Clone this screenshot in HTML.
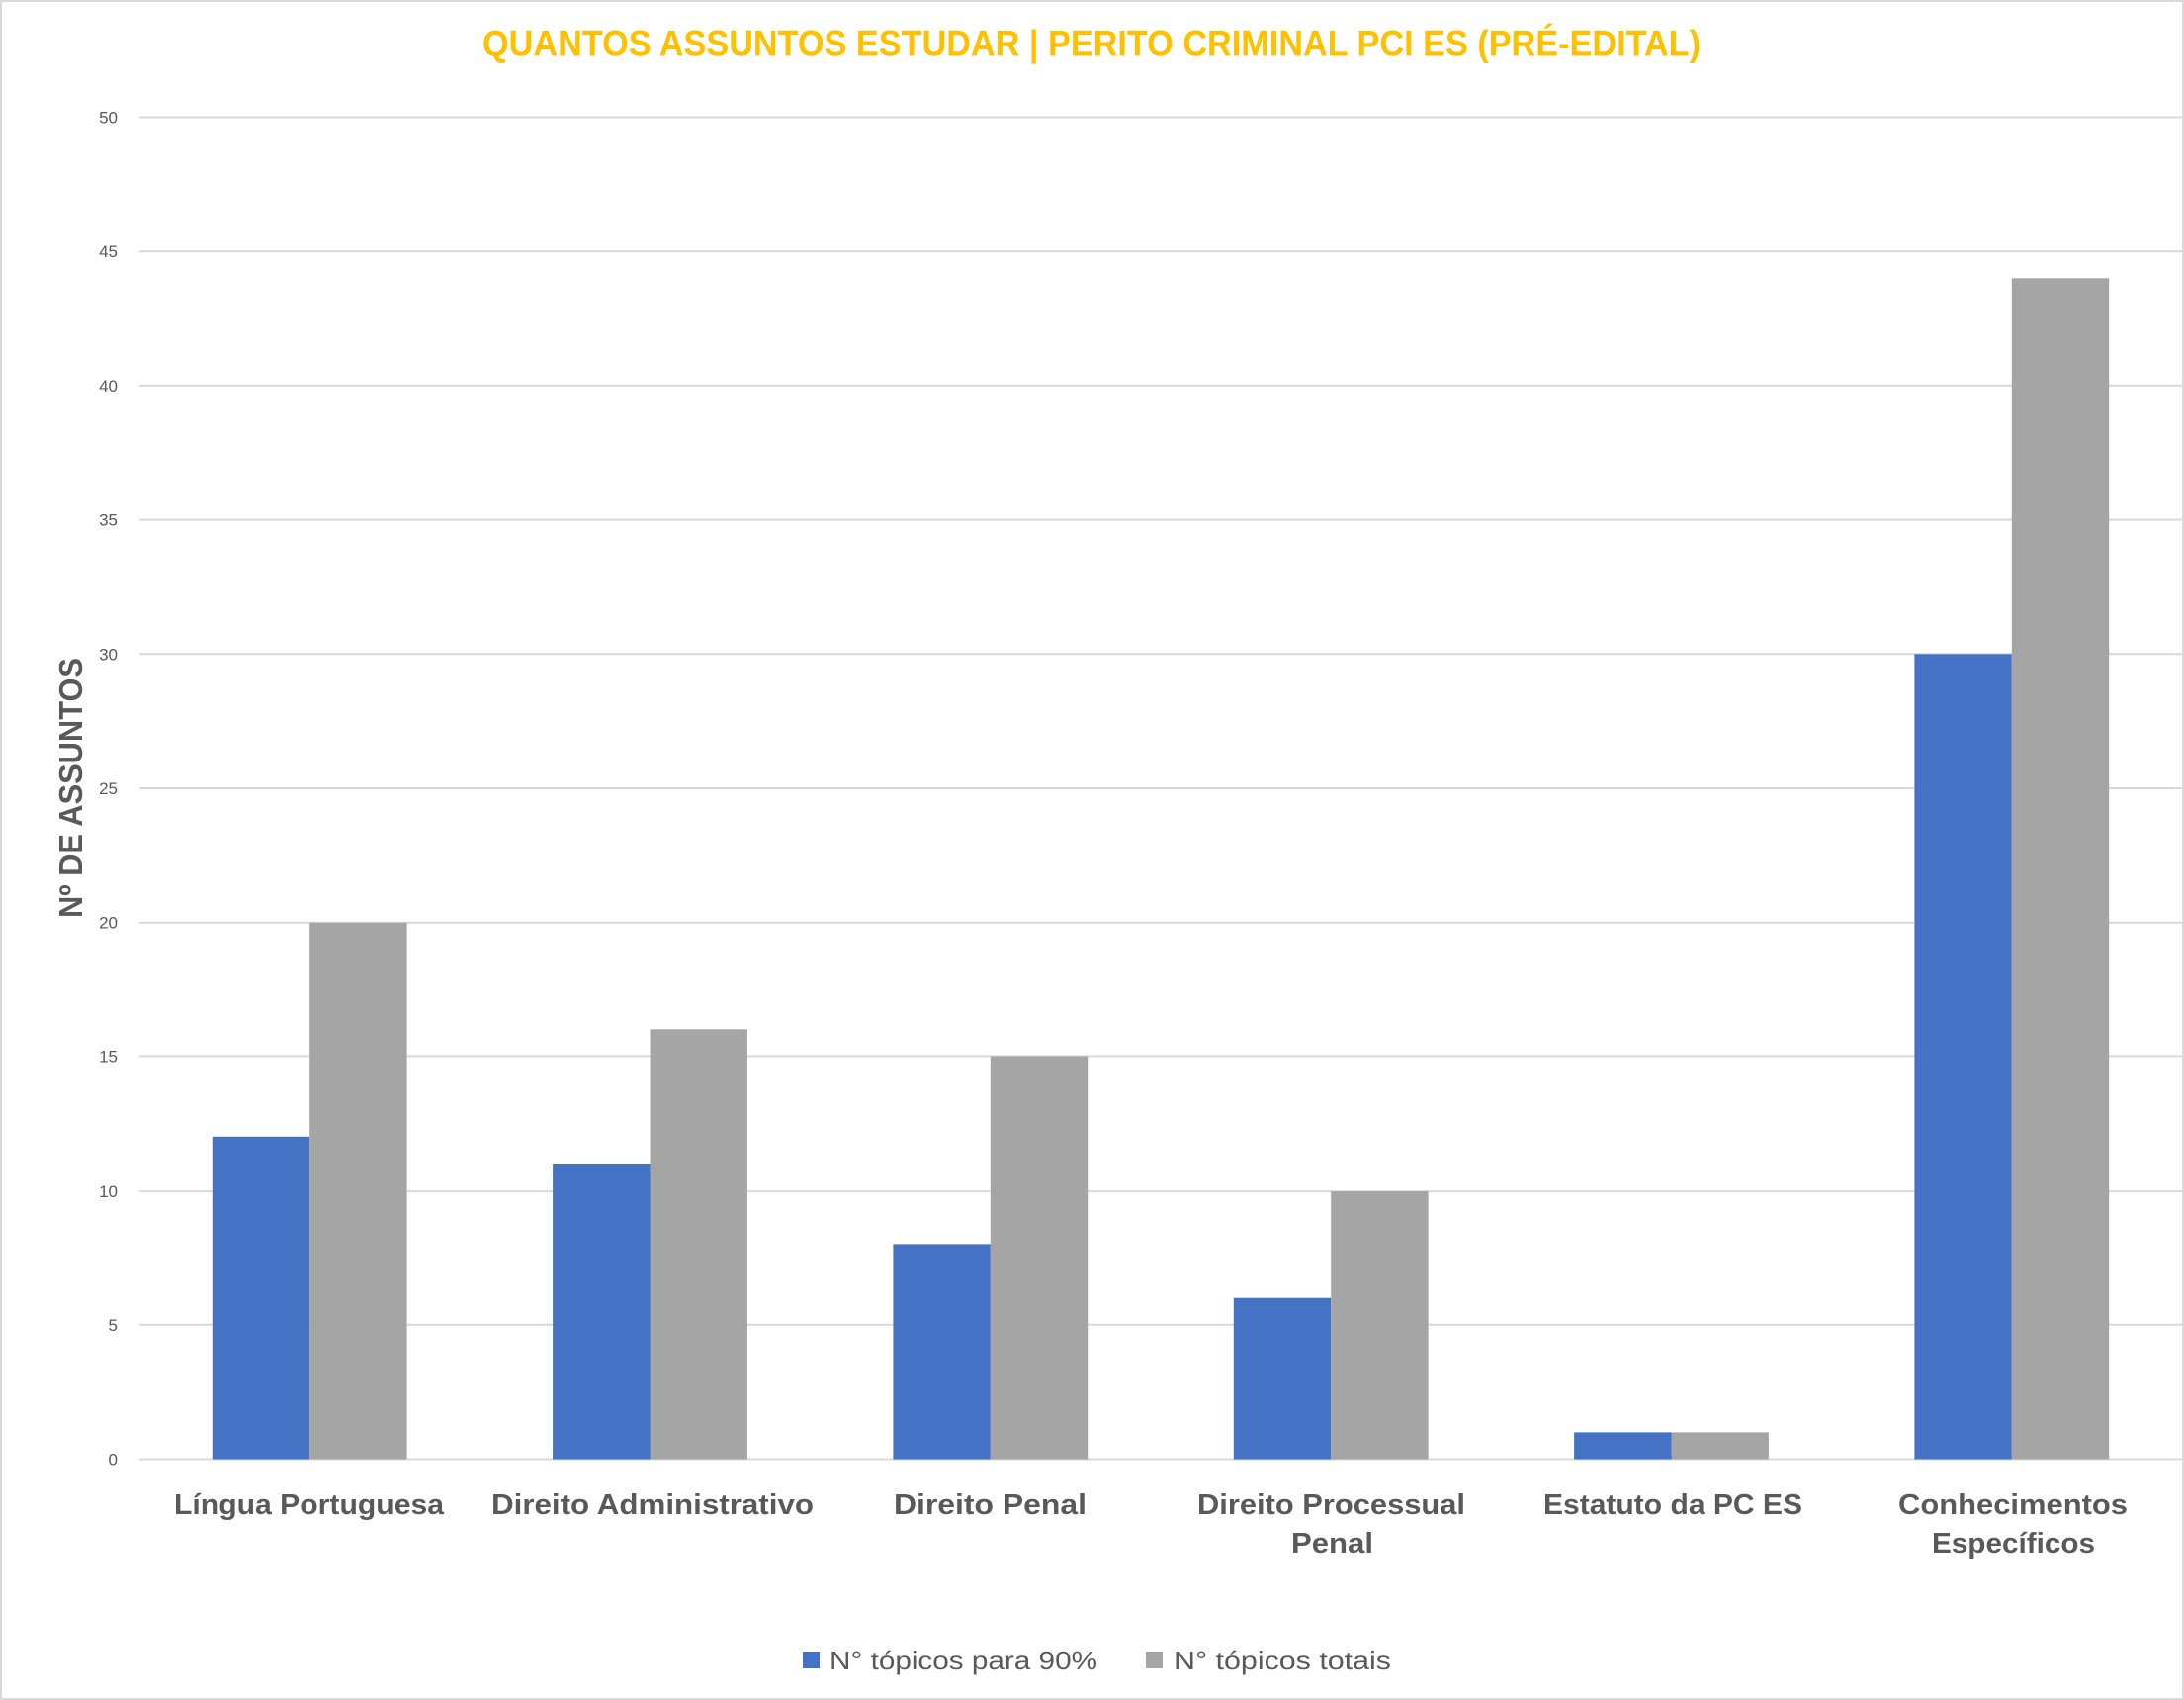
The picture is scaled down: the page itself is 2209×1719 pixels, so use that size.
<!DOCTYPE html>
<html>
<head>
<meta charset="utf-8">
<style>
html,body{margin:0;padding:0;background:#fff;}
svg{display:block;}
text{font-family:"Liberation Sans",Arial,sans-serif;}
</style>
</head>
<body>
<svg width="2209" height="1719" viewBox="0 0 2209 1719" xmlns="http://www.w3.org/2000/svg">
<rect x="0" y="0" width="2209" height="1719" fill="#ffffff"/>
<rect x="1" y="1" width="2207" height="1717" fill="none" stroke="#D9D9D9" stroke-width="2"/>

<!-- Title -->
<text x="488" y="56.5" font-size="37" font-weight="bold" fill="#FFC000" textLength="1232" lengthAdjust="spacingAndGlyphs">QUANTOS ASSUNTOS ESTUDAR | PERITO CRIMINAL PCI ES (PRÉ-EDITAL)</text>

<!-- Gridlines -->
<g stroke="#D9D9D9" stroke-width="2">
<line x1="141" y1="118.5" x2="2207" y2="118.5"/>
<line x1="141" y1="254.2" x2="2207" y2="254.2"/>
<line x1="141" y1="389.9" x2="2207" y2="389.9"/>
<line x1="141" y1="525.6" x2="2207" y2="525.6"/>
<line x1="141" y1="661.3" x2="2207" y2="661.3"/>
<line x1="141" y1="797.0" x2="2207" y2="797.0"/>
<line x1="141" y1="932.7" x2="2207" y2="932.7"/>
<line x1="141" y1="1068.4" x2="2207" y2="1068.4"/>
<line x1="141" y1="1204.1" x2="2207" y2="1204.1"/>
<line x1="141" y1="1339.8" x2="2207" y2="1339.8"/>
<line x1="141" y1="1475.5" x2="2207" y2="1475.5"/>
</g>

<!-- Y tick labels -->
<g font-size="17" fill="#595959" text-anchor="end">
<text x="119" y="124.5">50</text>
<text x="119" y="260.2">45</text>
<text x="119" y="395.9">40</text>
<text x="119" y="531.6">35</text>
<text x="119" y="667.3">30</text>
<text x="119" y="803.0">25</text>
<text x="119" y="938.7">20</text>
<text x="119" y="1074.4">15</text>
<text x="119" y="1210.1">10</text>
<text x="119" y="1345.8">5</text>
<text x="119" y="1481.5">0</text>
</g>

<!-- Y axis title -->
<text transform="translate(83,796.5) rotate(-90)" font-size="33" font-weight="bold" fill="#595959" text-anchor="middle" textLength="263" lengthAdjust="spacingAndGlyphs">Nº DE ASSUNTOS</text>

<!-- Bars: blue -->
<g fill="#4472C4">
<rect x="214.8" y="1149.8" width="98.4" height="325.7"/>
<rect x="559.1" y="1177.0" width="98.4" height="298.5"/>
<rect x="903.4" y="1258.4" width="98.4" height="217.1"/>
<rect x="1247.8" y="1312.7" width="98.4" height="162.8"/>
<rect x="1592.1" y="1448.4" width="98.4" height="27.1"/>
<rect x="1936.4" y="661.3" width="98.4" height="814.2"/>
</g>
<!-- Bars: gray -->
<g fill="#A5A5A5">
<rect x="313.2" y="932.7" width="98.4" height="542.8"/>
<rect x="657.5" y="1041.3" width="98.4" height="434.2"/>
<rect x="1001.8" y="1068.4" width="98.4" height="407.1"/>
<rect x="1346.2" y="1204.1" width="98.4" height="271.4"/>
<rect x="1690.5" y="1448.4" width="98.4" height="27.1"/>
<rect x="2034.8" y="281.3" width="98.4" height="1194.2"/>
</g>

<!-- Category labels -->
<g font-size="29" font-weight="bold" fill="#595959" text-anchor="middle">
<text x="312.5" y="1531" textLength="273" lengthAdjust="spacingAndGlyphs">Língua Portuguesa</text>
<text x="660" y="1531" textLength="326" lengthAdjust="spacingAndGlyphs">Direito Administrativo</text>
<text x="1001.5" y="1531" textLength="195" lengthAdjust="spacingAndGlyphs">Direito Penal</text>
<text x="1346.5" y="1531" textLength="271" lengthAdjust="spacingAndGlyphs">Direito Processual</text>
<text x="1347.5" y="1570" textLength="83" lengthAdjust="spacingAndGlyphs">Penal</text>
<text x="1692" y="1531" textLength="262" lengthAdjust="spacingAndGlyphs">Estatuto da PC ES</text>
<text x="2036" y="1531" textLength="232" lengthAdjust="spacingAndGlyphs">Conhecimentos</text>
<text x="2036.5" y="1570" textLength="165" lengthAdjust="spacingAndGlyphs">Específicos</text>
</g>

<!-- Legend -->
<rect x="812" y="1670" width="17" height="17" fill="#4472C4"/>
<text x="839" y="1688" font-size="26" fill="#595959" textLength="271" lengthAdjust="spacingAndGlyphs">N° tópicos para 90%</text>
<rect x="1159" y="1670" width="17" height="17" fill="#A5A5A5"/>
<text x="1187" y="1688" font-size="26" fill="#595959" textLength="220" lengthAdjust="spacingAndGlyphs">N° tópicos totais</text>
</svg>
</body>
</html>
